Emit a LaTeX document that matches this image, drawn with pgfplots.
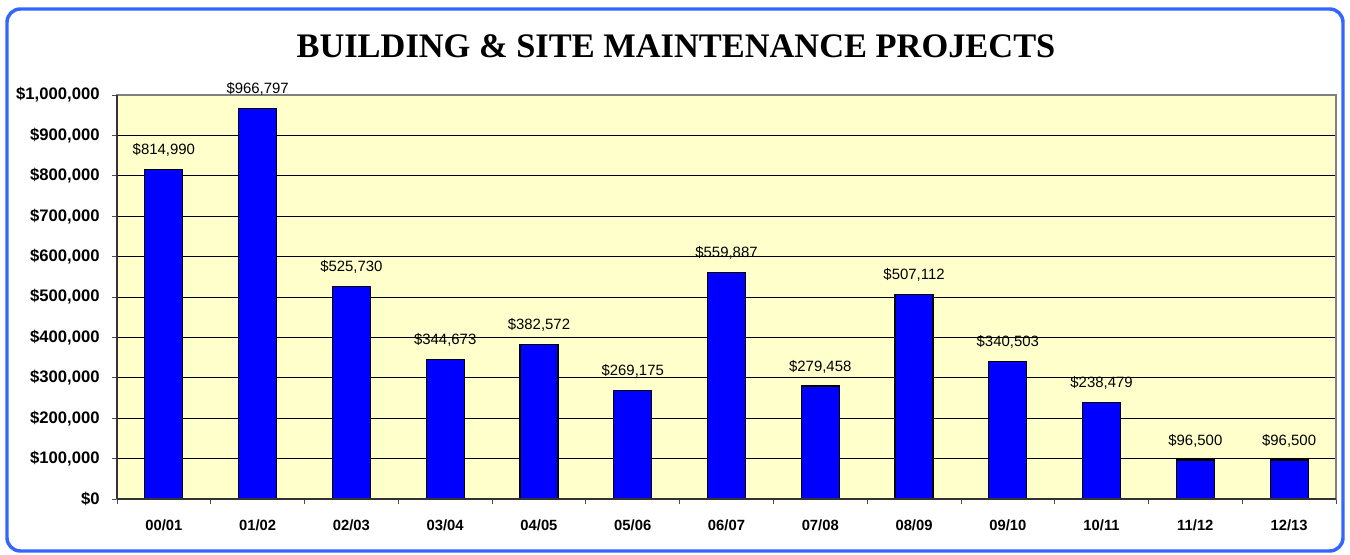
\documentclass[border=0pt]{standalone}
\usepackage{fontspec}
\setmainfont{Liberation Sans}
\newfontfamily\titlefont{Liberation Serif}
\usepackage{pgfplots}
\pgfplotsset{compat=1.18}
\definecolor{bgyellow}{RGB}{255,255,204}
\definecolor{barblue}{RGB}{0,0,255}
\definecolor{frameblue}{RGB}{51,102,255}
\begin{document}
\begin{tikzpicture}
\begin{axis}[
  at={(0pt,0pt)}, anchor=south west,
  scale only axis,
  width=914.25pt, height=303pt,
  xmin=-0.5, xmax=12.5,
  ymin=0, ymax=1000000,
  ytick={0,100000,...,1000000},
  scaled y ticks=false,
  /pgf/number format/assume math mode=true,
  yticklabel={\$\pgfmathprintnumber[fixed,precision=0,1000 sep={,}]{\tick}},
  yticklabel style={font=\fontsize{12.5}{14}\selectfont\bfseries, xshift=-5.5pt},
  xtick={-0.5,0.5,...,12.5},
  x tick label as interval,
  xticklabels={00/01,01/02,02/03,03/04,04/05,05/06,06/07,07/08,08/09,09/10,10/11,11/12,12/13},
  xticklabel style={font=\fontsize{11.1}{13}\selectfont\bfseries, yshift=-8pt},
  xtick pos=bottom, ytick pos=left,
  tick align=outside,
  major tick length=4pt,
  tick style={black!70, line width=0.6pt},
  ymajorgrids,
  major grid style={black, line width=0.6pt},
  axis line style={gray, line width=0.8pt},
  axis background/.style={fill=bgyellow},
  ybar, bar width=28.5pt,
  nodes near coords={\$\pgfmathprintnumber[fixed,precision=0,1000 sep={,}]{\pgfplotspointmeta}},
  every node near coord/.append style={font=\fontsize{11.2}{13}\selectfont, anchor=south, yshift=6pt, black},
  clip=false,
]
\addplot[fill=barblue, draw=black, line width=0.9pt] coordinates {
  (0,814990) (1,966797) (2,525730) (3,344673) (4,382572) (5,269175)
  (6,559887) (7,279458) (8,507112) (9,340503) (10,238479) (11,96500) (12,96500)
};
\end{axis}
\draw[black!80, line width=0.8pt] (0pt,0pt) -- (0pt,303pt);
\draw[black!80, line width=0.8pt] (0pt,0pt) -- (914.25pt,0pt);
\node[font=\titlefont\fontsize{25.8}{30}\selectfont\bfseries] at (419.25pt,339.75pt) {BUILDING \& SITE MAINTENANCE PROJECTS};
\draw[frameblue, line width=2.6pt, rounded corners=10pt] (-82.5pt,-39pt) rectangle (919.5pt,367.5pt);
\pgfresetboundingbox
\path (-87.75pt,-42pt) rectangle (924.75pt,374.25pt);
\end{tikzpicture}
\end{document}
